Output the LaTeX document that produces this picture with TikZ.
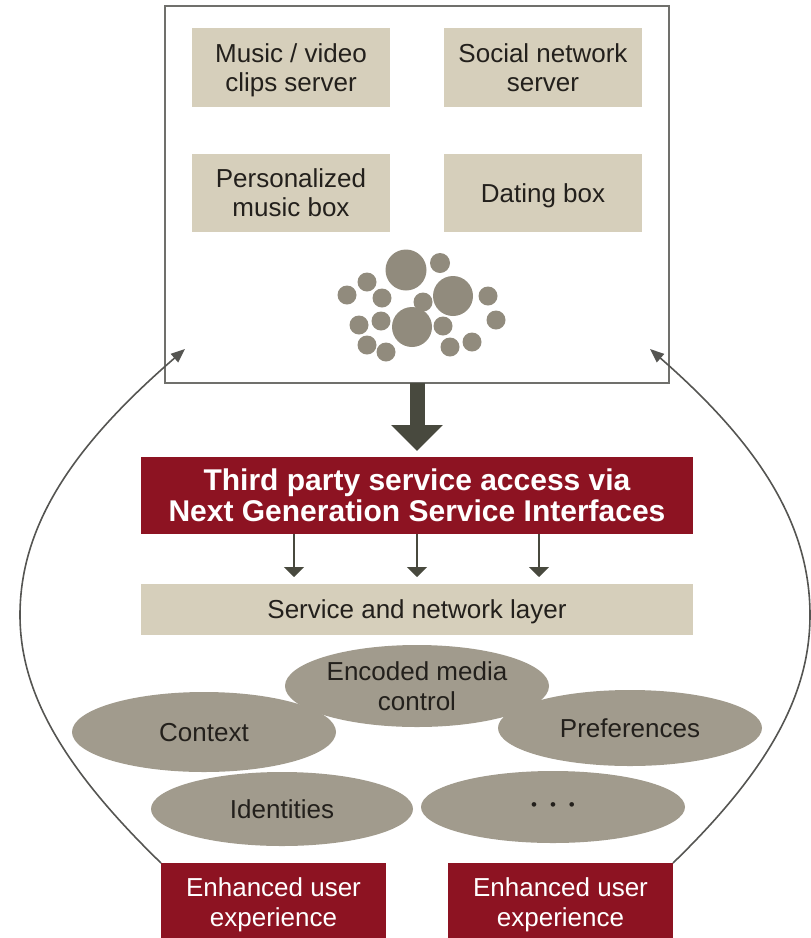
\documentclass[tikz,border=0pt]{standalone}
\usepackage{fontspec}
\setmainfont{Liberation Sans}
\usetikzlibrary{arrows.meta,shapes.geometric}
\definecolor{beigebox}{RGB}{214,207,187}
\definecolor{darkred}{RGB}{141,19,34}
\definecolor{ellfill}{RGB}{161,155,141}
\definecolor{circfill}{RGB}{145,139,125}
\definecolor{arrowdark}{RGB}{72,73,62}
\definecolor{framegray}{RGB}{112,112,108}
\definecolor{linegray}{RGB}{85,85,82}
\definecolor{textdark}{RGB}{35,32,28}
\begin{document}
\begin{tikzpicture}[x=1pt,y=-1pt,
  every node/.style={inner sep=0pt,outer sep=0pt,text depth=0pt},
  servbox/.style={rectangle,fill=beigebox,text=textdark,font=\fontsize{26}{29}\selectfont,align=center,minimum width=198pt,minimum height=79pt},
  frame/.style={rectangle,draw=framegray,line width=2pt,minimum width=504pt,minimum height=377pt},
  redbar/.style={rectangle,fill=darkred,text=white,font=\bfseries\fontsize{30}{31}\selectfont,align=center,minimum width=552pt,minimum height=77pt},
  layer/.style={rectangle,fill=beigebox,text=textdark,font=\fontsize{26}{30}\selectfont,minimum width=552pt,minimum height=51pt},
  blob/.style={ellipse,fill=ellfill,text=textdark,font=\fontsize{26}{30}\selectfont,align=center},
  redfoot/.style={rectangle,fill=darkred,text=white,font=\fontsize{26}{30}\selectfont,align=center,minimum width=225pt,minimum height=79pt,anchor=north},
  dot/.style={fill=circfill},
  bigarrow/.style={draw=arrowdark,line width=15pt,-{Triangle[width=50pt,length=26pt]},shorten >=6pt},
  smallarrow/.style={draw=arrowdark,line width=2pt,-{Triangle[width=20pt,length=10pt]},shorten >=7pt},
  loopline/.style={draw=linegray,line width=1.6pt,-{Triangle[width=11pt,length=14pt]}}
]
\useasboundingbox (0,0) rectangle (811,938);
\clip (0,0) rectangle (811,938);

% top frame and services
\node[frame] (frame) at (417,194.5) {};
\node[servbox] (music) at (291,67.5) {Music / video\\clips server};
\node[servbox] (social) at (543,67.5) {Social network\\server};
\node[servbox,minimum height=78pt] (pers) at (291,193) {Personalized\\music box};
\node[servbox,minimum height=78pt] (dating) at (543,193) {Dating box};

% cluster of circles
\foreach \cx/\cy/\r in {406/270/20.5, 453/296/20, 412/327/20,
  440/263/10, 367/282/9.5, 347/295/9.5, 382/298/9.5, 423/302/9.5,
  488/296/9.5, 496/320/9.5, 359/325/9.5, 381/321/9.5, 443/326/9.5,
  367/345/9.5, 386/352/9.5, 450/347/9.5, 472/342/9.5}
  {\fill[dot] (\cx,\cy) circle[radius=\r pt];}

% third party access bar
\node[redbar] (ngsi) at (417,495.5) {Third party service access via\\Next Generation Service Interfaces};
\draw[bigarrow] (frame.south) -- (ngsi.north);

% service and network layer
\node[layer] (layer) at (417,609.5) {Service and network layer};
\draw[smallarrow] ([xshift=-123pt]ngsi.south) -- ([xshift=-123pt]layer.north);
\draw[smallarrow] (ngsi.south) -- (layer.north);
\draw[smallarrow] ([xshift=122pt]ngsi.south) -- ([xshift=122pt]layer.north);

% ellipses
\node[blob,minimum width=264pt,minimum height=80pt] (context) at (204,732) {Context};
\node[blob,minimum width=264pt,minimum height=76pt] (prefs) at (630,728) {Preferences};
\node[blob,minimum width=262pt,minimum height=74pt] (ident) at (282,809) {Identities};
\node[blob,minimum width=264pt,minimum height=72pt,font=\fontsize{17}{17}\selectfont] (more) at (553,807) {•\hspace{13pt}•\hspace{13pt}•};
\node[blob,minimum width=264pt,minimum height=82pt] (media) at (417,686) {Encoded media\\control};

% enhanced user experience boxes
\node[redfoot] (euL) at (273.5,863) {Enhanced user\\experience};
\node[redfoot] (euR) at (560.5,863) {Enhanced user\\experience};

% feedback loops
\coordinate (tipL) at (185,349);
\coordinate (tipR) at (650,349);
\draw[loopline] (euL.north west) .. controls (60,765) and (20,690) .. (20,615)
  .. controls (20,520) and (80,440) .. (tipL);
\draw[loopline] (euR.north east) .. controls (774,765) and (810,690) .. (810,615)
  .. controls (810,520) and (754,440) .. (tipR);
\end{tikzpicture}
\end{document}
